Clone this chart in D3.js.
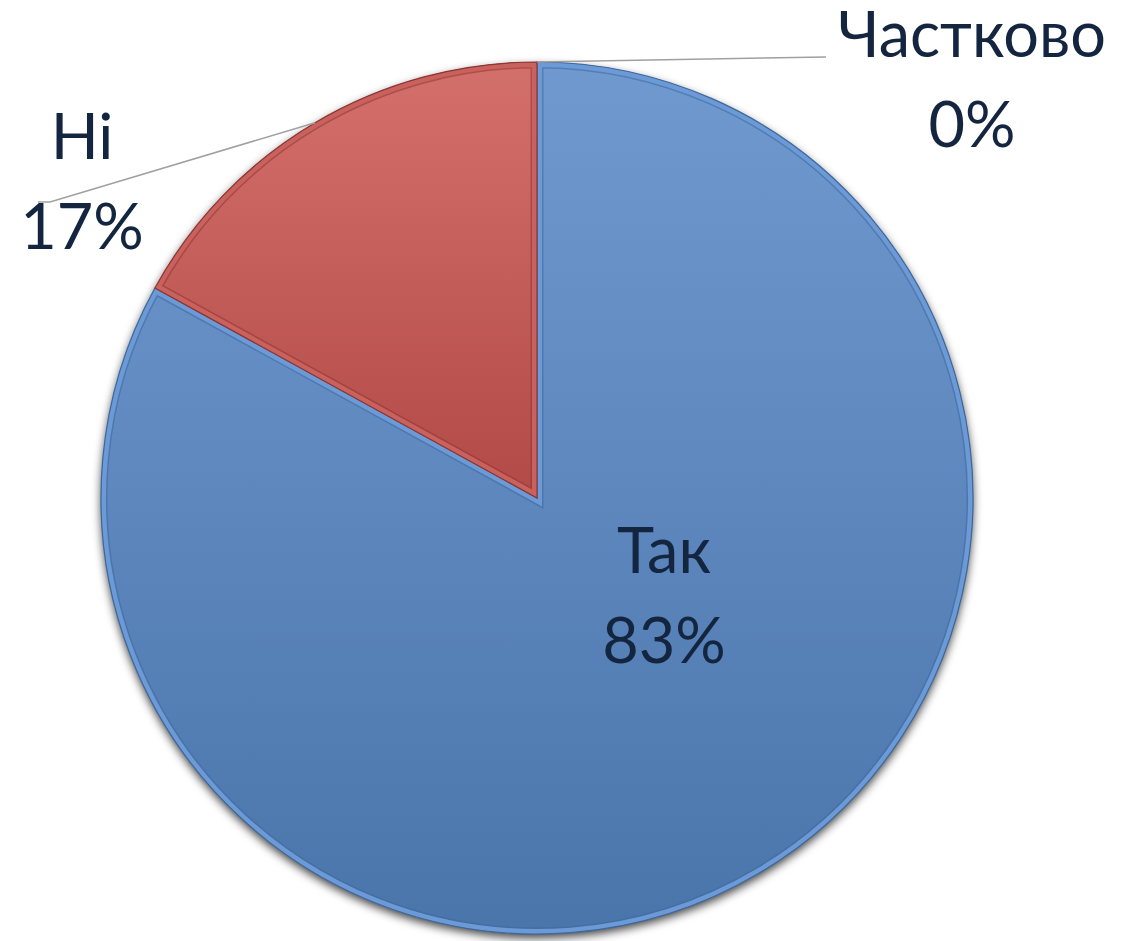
<!DOCTYPE html>
<html>
<head>
<meta charset="utf-8">
<script src="https://cdn.jsdelivr.net/npm/d3@7"></script>
<style>
  html, body { margin: 0; padding: 0; background: #ffffff; }
  svg { display: block; }
</style>
</head>
<body>
<svg id="chart" width="1122" height="941"></svg>
<script>
// Survey answers, clockwise from 12 o'clock
const categories = ["Так", "Ні", "Частково"];
const values = [83, 17, 0];

const W = 1122, H = 941;
const cx = 537, cy = 498, R = 436;

// Label anchors (centre x, baseline of first line) and leader line ends
const labelLayout = {
  "Так":      { x: 664, y: 573, leader: null },
  "Ні":       { x: 82,  y: 159, leader: [[50, 202], [38, 202]] },
  "Частково": { x: 972, y: 57,  leader: [[826, 57]] }
};

const fills = {
  "Так": ["#7099d0", "#4a75ab"],
  "Ні": ["#d4706c", "#b24a47"],
  "Частково": ["#9bbb59", "#76923c"]
};
const bands = { "Так": "#6b9ad6", "Ні": "#c9615d", "Частково": "#9bbb59" };
const edges = { "Так": "#3e679c", "Ні": "#8e3532", "Частково": "#5f7530" };

const svg = d3.select("#chart");
const defs = svg.append("defs");

categories.forEach((c, i) => {
  const g = defs.append("linearGradient")
    .attr("id", "grad" + i).attr("x1", 0).attr("y1", 0).attr("x2", 0).attr("y2", 1);
  g.append("stop").attr("offset", "0%").attr("stop-color", fills[c][0]);
  g.append("stop").attr("offset", "100%").attr("stop-color", fills[c][1]);
});

const shadow = defs.append("filter").attr("id", "shadow")
  .attr("x", "-10%").attr("y", "-10%").attr("width", "120%").attr("height", "125%");
shadow.append("feDropShadow").attr("dx", 0).attr("dy", 4)
  .attr("stdDeviation", 5).attr("flood-color", "#000").attr("flood-opacity", 0.75);

const pie = d3.pie().sort(null).value(d => d.value);
const data = categories.map((c, i) => ({ name: c, value: values[i] }));
const arcs = pie(data);
const total = d3.sum(values);

const arc = d3.arc().innerRadius(0).outerRadius(R);

const g = svg.append("g").attr("transform", `translate(${cx},${cy})`);

// Shadow underneath the whole pie
g.append("g").attr("filter", "url(#shadow)")
  .selectAll("path").data(arcs.filter(d => d.value > 0)).join("path")
  .attr("d", arc).attr("fill", "#4a75ab");

const slices = g.selectAll("g.slice").data(arcs.filter(d => d.value > 0)).join("g")
  .attr("class", "slice");

slices.each(function (d) {
  const s = d3.select(this);
  const idx = categories.indexOf(d.data.name);
  const id = "clip" + idx;
  defs.append("clipPath").attr("id", id)
    .append("path").attr("d", arc(d)).attr("transform", `translate(${cx},${cy})`);
  // base fill
  s.append("path").attr("d", arc(d)).attr("fill", `url(#grad${idx})`);
  // bevel: inner dark line, then a lighter band along the edge
  const inner = s.append("g").attr("clip-path", `url(#${id})`)
    .attr("transform", `translate(${-cx},${-cy})`);
  inner.append("path").attr("d", arc(d)).attr("transform", `translate(${cx},${cy})`)
    .attr("fill", "none").attr("stroke", edges[d.data.name]).attr("stroke-opacity", 0.55)
    .attr("stroke-width", 13).attr("stroke-linejoin", "miter");
  inner.append("path").attr("d", arc(d)).attr("transform", `translate(${cx},${cy})`)
    .attr("fill", "none").attr("stroke", bands[d.data.name])
    .attr("stroke-width", 10).attr("stroke-linejoin", "miter");
  // outer edge
  s.append("path").attr("d", arc(d))
    .attr("fill", "none").attr("stroke", edges[d.data.name])
    .attr("stroke-width", 1.2).attr("stroke-linejoin", "miter");
});

// Leader lines: start on the arc at each slice's mid angle
arcs.forEach(d => {
  const lay = labelLayout[d.data.name];
  if (!lay.leader) return;
  const mid = (d.startAngle + d.endAngle) / 2;
  const start = [cx + R * Math.sin(mid), cy - R * Math.cos(mid)];
  svg.append("path")
    .attr("d", d3.line()([start, ...lay.leader]))
    .attr("fill", "none").attr("stroke", "#a0a0a0").attr("stroke-width", 1.5);
});

// Category and percentage labels
const fmt = d3.format(".0%");
arcs.forEach(d => {
  const lay = labelLayout[d.data.name];
  const t = svg.append("text")
    .attr("text-anchor", "middle")
    .attr("font-family", "Lato, 'Open Sans', sans-serif")
    .attr("font-size", 63)
    .attr("fill", "#13253f");
  t.append("tspan").attr("x", lay.x).attr("y", lay.y).text(d.data.name);
  t.append("tspan").attr("x", lay.x).attr("y", lay.y + 90).text(fmt(d.value / total));
});
</script>
</body>
</html>
